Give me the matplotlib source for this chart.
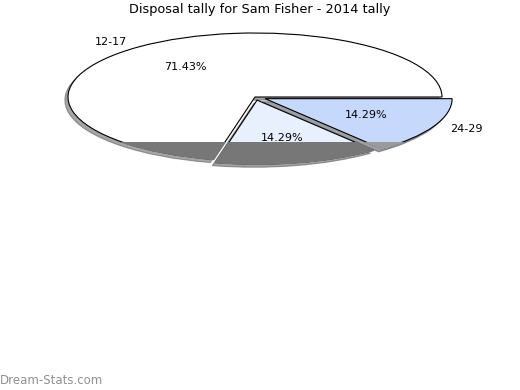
import matplotlib
matplotlib.use('Agg')
import matplotlib.pyplot as plt
from matplotlib.patches import Wedge, Rectangle

# data
labels = ['12-17', '', '24-29']
sizes = [5, 1, 1]
colors = ['#ffffff', '#e8effd', '#c6d9fc']
band_colors = ['#777777', '#777777', '#9a9a9a']
explode = [0, 0.05, 0.06]

W, H = 520, 390
fig = plt.figure(figsize=(W / 100, H / 100), dpi=100)
ax = fig.add_axes([0, 0, 1, 1])

wedges, texts, autotexts = ax.pie(
    sizes, labels=labels, colors=colors, explode=explode,
    startangle=0, counterclock=True,
    shadow={'ox': -0.012, 'oy': -0.035},
    autopct='%.2f%%',
    wedgeprops=dict(edgecolor='black', linewidth=0.8),
    textprops=dict(fontsize=8))

# pie centre at pixel (255, 97), radii 187 x 64 px
cx, cy, rx, ry = 255, 97, 187, 64
ax.set_aspect('auto')
ax.set_xlim(-cx / rx, (W - cx) / rx)
ax.set_ylim(-(H - cy) / ry, cy / ry)
ax.axis('off')

# dark band over the lower part of the pie
cut = -(142 - cy) / ry
for w, c in zip(wedges, band_colors):
    b = Wedge(w.center, w.r, w.theta1, w.theta2, facecolor=c,
              edgecolor=c, linewidth=1.2, zorder=4)
    ax.add_patch(b)
    clip = Rectangle((-3, -3), 6, 3 + cut, transform=ax.transData)
    b.set_clip_path(clip)

fig.text(0.5, 1 - 10 / H, 'Disposal tally for Sam Fisher - 2014 tally',
         ha='center', va='center', fontsize=9.3)
fig.text(0.0, 1 - 380 / H, 'Dream-Stats.com', ha='left', va='center',
         fontsize=8.5, color='#909090')

fig.savefig('out.png', dpi=100)
